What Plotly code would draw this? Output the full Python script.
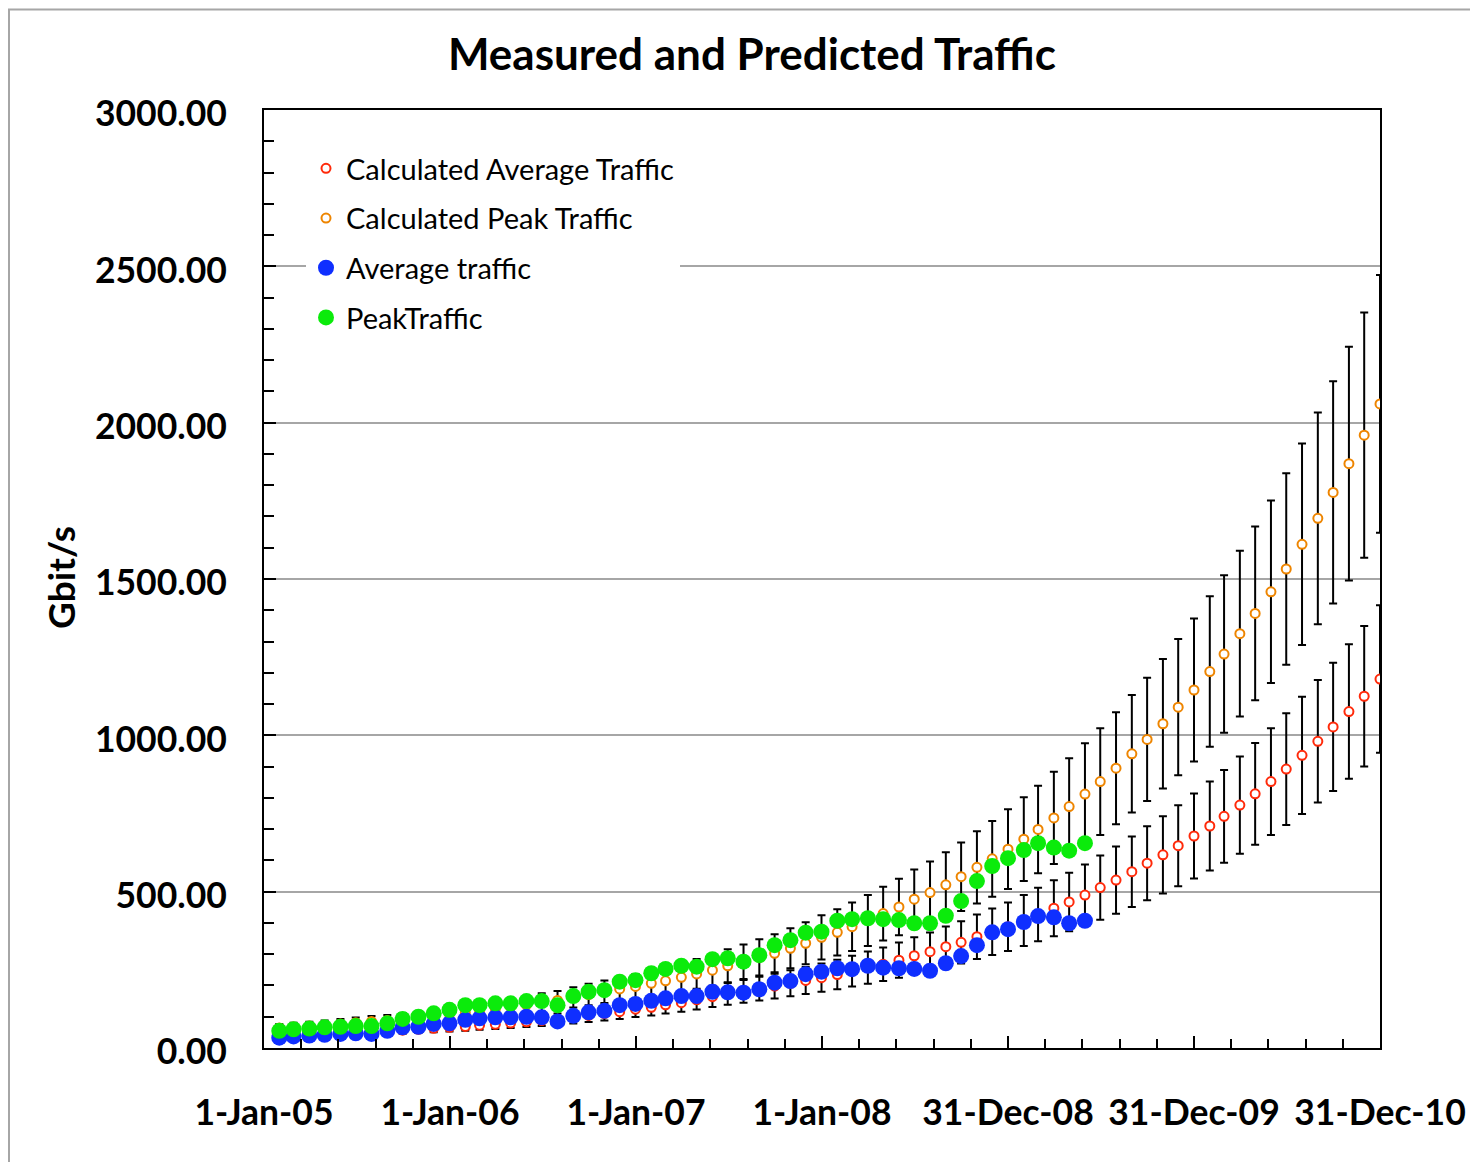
import pandas as pd
import plotly.graph_objects as go

# ---------------- data ----------------
calc_dates = pd.date_range("2005-01-31", "2010-12-31", freq="ME")   # 72 month ends
meas_dates = calc_dates[:53]                                          # Jan-05 .. May-09

calc_avg = [39, 41, 43, 45, 47, 50, 52, 55, 57, 60,
            63, 66, 69, 73, 76, 80, 84, 88, 92, 98,
            104, 110, 116, 124, 130, 138, 145, 154, 164, 173,
            181, 190, 198, 207, 216, 225, 235, 246, 257, 268,
            281, 295, 308, 324, 338, 356, 372, 388, 408, 427,
            447, 467, 489, 513, 537, 564, 591, 618, 647, 678,
            710, 741, 777, 813, 852, 892, 936, 981, 1027, 1076, 1125, 1180]

calc_peak = [64, 67, 70, 73, 77, 81, 85, 88, 93, 98,
             103, 108, 113, 119, 125, 131, 138, 146, 152, 162,
             171, 180, 189, 197, 207, 215, 226, 237, 249, 263,
             276, 290, 303, 319, 335, 354, 370, 388, 408, 430,
             451, 476, 497, 522, 548, 578, 605, 636, 668, 699,
             736, 772, 812, 852, 895, 941, 987, 1037, 1090, 1145,
             1204, 1260, 1325, 1390, 1459, 1532, 1611, 1694, 1777, 1869, 1960, 2060]

avg_traffic = [33, 37, 40, 42, 45, 47, 45, 55, 66, 68,
               77, 79, 90, 95, 98, 98, 100, 98, 85, 103,
               114, 119, 137, 141, 151, 159, 166, 166, 180, 178,
               177, 188, 209, 214, 236, 244, 255, 252, 263, 257,
               255, 253, 247, 271, 294, 329, 370, 380, 403, 422,
               418, 399, 407]

peak_traffic = [55, 60, 62, 66, 68, 70, 70, 79, 93, 100,
                111, 122, 137, 137, 143, 143, 150, 150, 137, 166,
                180, 185, 212, 217, 239, 253, 263, 260, 284, 287,
                276, 297, 329, 345, 369, 372, 407, 412, 415, 412,
                409, 399, 399, 423, 470, 534, 582, 607, 633, 655,
                641, 631, 655]

error_percent = 20

x_tick_vals = ["2005-01-01", "2006-01-01", "2007-01-01", "2008-01-01",
               "2008-12-31", "2009-12-31", "2010-12-31"]
x_tick_text = ["1-Jan-05", "1-Jan-06", "1-Jan-07", "1-Jan-08",
               "31-Dec-08", "31-Dec-09", "31-Dec-10"]
y_tick_vals = [0, 500, 1000, 1500, 2000, 2500, 3000]
y_tick_text = ["0.00", "500.00", "1000.00", "1500.00", "2000.00", "2500.00", "3000.00"]

# ---------------- figure ----------------
W, H = 1478, 1162
OFF = 8                      # page body margin
L, R, T, B = 264 - OFF, 1380 - OFF, 110 - OFF, 1048 - OFF
FONT = "Lato"

def px_x(p):   # screen px -> paper
    return (p - OFF - L) / (R - L)

def px_y(p):
    return (B - (p - OFF)) / (B - T)

fig = go.Figure()

err = dict(type="percent", value=error_percent, color="black", thickness=2, width=4)

fig.add_trace(go.Scatter(
    x=calc_dates, y=calc_avg, mode="markers", name="Calculated Average Traffic",
    legendgroup="a",
    marker=dict(symbol="circle", size=9, color="white", line=dict(color="#FF2A0A", width=2)),
    error_y=err))
fig.add_trace(go.Scatter(
    x=calc_dates, y=calc_peak, mode="markers", name="Calculated Peak Traffic",
    legendgroup="b",
    marker=dict(symbol="circle", size=9, color="white", line=dict(color="#EE8500", width=2)),
    error_y=err))
fig.add_trace(go.Scatter(
    x=meas_dates, y=avg_traffic, mode="markers", name="Average traffic",
    legendgroup="c",
    marker=dict(symbol="circle", size=16, color="#0F2FFF", line=dict(width=0))))
fig.add_trace(go.Scatter(
    x=meas_dates, y=peak_traffic, mode="markers", name="PeakTraffic",
    legendgroup="d",
    marker=dict(symbol="circle", size=16, color="#0BEB0B", line=dict(width=0))))

fig.update_layout(
    width=W, height=H, autosize=False,
    margin=dict(l=L, r=W - R, t=T, b=H - B, pad=0),
    paper_bgcolor="white", plot_bgcolor="white",
    font=dict(family=FONT, color="black"),
    title=dict(text="<b>Measured and Predicted Traffic</b>", x=(752 - OFF) / W, xref="container",
               xanchor="center", y=1 - (55 - OFF) / H, yref="container", yanchor="middle",
               font=dict(family=FONT, size=44, color="black")),
    showlegend=True,
    legend=dict(x=px_x(306), y=px_y(143), xanchor="left", yanchor="top",
                bgcolor="white", borderwidth=0, traceorder="grouped",
                tracegroupgap=9, font=dict(family=FONT, size=29, color="black"),
                itemsizing="trace"),
)

fig.update_xaxes(
    type="date", range=["2005-01-01", "2010-12-31"],
    tickmode="array", tickvals=x_tick_vals, ticktext=x_tick_text,
    ticks="inside", ticklen=12, tickwidth=1.5, tickcolor="black",
    showgrid=False, zeroline=False,
    showline=True, linecolor="black", linewidth=2, mirror=True,
    tickfont=dict(family=FONT, size=35.5, color="black", weight="bold"),
    ticklabelstandoff=32,
    minor=dict(tick0="2005-01-01", dtick=73 * 86400000, ticks="inside", ticklen=9,
               tickwidth=1.5, tickcolor="black", showgrid=False),
)
fig.update_yaxes(
    range=[0, 3000], tickmode="array", tickvals=y_tick_vals, ticktext=y_tick_text,
    ticks="inside", ticklen=12, tickwidth=1.5, tickcolor="black",
    showgrid=True, gridcolor="#A6A6A6", gridwidth=1.5, zeroline=False,
    showline=True, linecolor="black", linewidth=2, mirror=True,
    tickfont=dict(family=FONT, size=35.5, color="black", weight="bold"),
    ticklabelstandoff=28, ticklabelshift=4,
    minor=dict(dtick=100, ticks="inside", ticklen=10, tickwidth=1.5, tickcolor="black",
               showgrid=False),
)

fig.add_annotation(text="<b>Gbit/s</b>", textangle=-90, xref="paper", yref="paper",
                   x=px_x(60), y=px_y(578), xanchor="center", yanchor="middle",
                   showarrow=False, font=dict(family=FONT, size=37, color="black"))

# outer chart-area border (cropped at the right and bottom in the reference)
fig.add_shape(type="rect", xref="paper", yref="paper",
              x0=px_x(9), x1=px_x(W + 30), y0=px_y(H + 30), y1=px_y(OFF + 1.5),
              line=dict(color="#A6A6A6", width=2), fillcolor="rgba(0,0,0,0)", layer="below")

fig.write_html("out.html")
